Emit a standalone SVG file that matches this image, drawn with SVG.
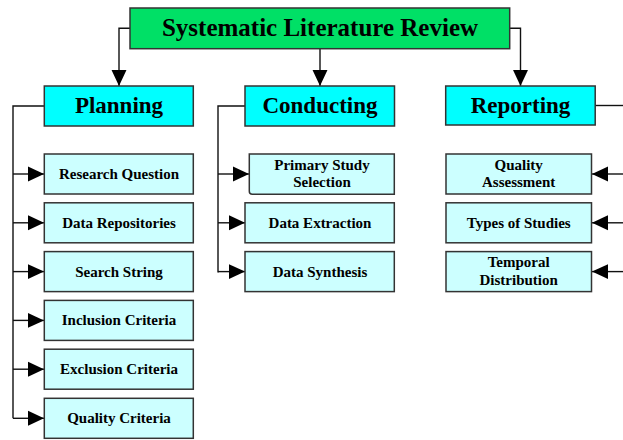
<svg xmlns="http://www.w3.org/2000/svg" width="623" height="440" viewBox="0 0 623 440">
<defs>
<style>
.t{font-family:"Liberation Serif","Times New Roman",serif;font-weight:bold;fill:#000;text-anchor:middle}
.top{fill:#00e066;stroke:#333;stroke-width:1.5}
.mid{fill:#00ffff;stroke:#333;stroke-width:1.5}
.leaf{fill:#ccffff;stroke:#333;stroke-width:1.5}
.c{fill:none;stroke:#111;stroke-width:1.4}
.h1{font-size:25px}
.h2{font-size:23px}
.h3{font-size:15px}
</style>
<marker id="ah" markerUnits="userSpaceOnUse" markerWidth="16" markerHeight="16" viewBox="0 0 15 14" refX="15" refY="7" orient="auto">
<path d="M0,0 L15,7 L0,14 Z" fill="#000"/>
</marker>
</defs>
<rect width="623" height="440" fill="#fff"/>
<g id="connectors">
<path class="c" d="M130,28.3 H119 V86" marker-end="url(#ah)"/>
<path class="c" d="M320,48.7 V86" marker-end="url(#ah)"/>
<path class="c" d="M509.7,28.3 H520.5 V86" marker-end="url(#ah)"/>
<path class="c" d="M44,106 H13 V418.3"/>
<path class="c" d="M13,174 H44" marker-end="url(#ah)"/>
<path class="c" d="M13,222.8 H44" marker-end="url(#ah)"/>
<path class="c" d="M13,271.6 H44" marker-end="url(#ah)"/>
<path class="c" d="M13,320.4 H44" marker-end="url(#ah)"/>
<path class="c" d="M13,369.2 H44" marker-end="url(#ah)"/>
<path class="c" d="M13,418.3 H44" marker-end="url(#ah)"/>
<path class="c" d="M245,106 H218 V272.6"/>
<path class="c" d="M218,174 H249" marker-end="url(#ah)"/>
<path class="c" d="M218,222.8 H245" marker-end="url(#ah)"/>
<path class="c" d="M218,271.6 H245" marker-end="url(#ah)"/>
<path class="c" d="M595,105.5 H623"/>
<path class="c" d="M623,174 H592" marker-end="url(#ah)"/>
<path class="c" d="M623,222.8 H592" marker-end="url(#ah)"/>
<path class="c" d="M623,271.6 H592" marker-end="url(#ah)"/>
</g>
<g id="slr"><rect class="top" x="130" y="8" width="379.7" height="40.7"/><text class="t h1" x="320" y="36">Systematic Literature Review</text></g>
<g id="planning"><rect class="mid" x="44.3" y="86" width="149" height="40"/><text class="t h2" x="119" y="113">Planning</text></g>
<g id="conducting"><rect class="mid" x="245" y="86" width="149.5" height="40"/><text class="t h2" x="320" y="113">Conducting</text></g>
<g id="reporting"><rect class="mid" x="445.7" y="86" width="149.5" height="39"/><text class="t h2" x="520.5" y="113">Reporting</text></g>
<g id="research-question"><rect class="leaf" x="44.3" y="154" width="149" height="40"/><text class="t h3" x="119" y="179">Research Question</text></g>
<g id="data-repositories"><rect class="leaf" x="44.3" y="202.8" width="149" height="40"/><text class="t h3" x="119" y="227.8">Data Repositories</text></g>
<g id="search-string"><rect class="leaf" x="44.3" y="251.6" width="149" height="40"/><text class="t h3" x="119" y="276.6">Search String</text></g>
<g id="inclusion-criteria"><rect class="leaf" x="44.3" y="300.4" width="149" height="40"/><text class="t h3" x="119" y="325.4">Inclusion Criteria</text></g>
<g id="exclusion-criteria"><rect class="leaf" x="44.3" y="349.2" width="149" height="40"/><text class="t h3" x="119" y="374.2">Exclusion Criteria</text></g>
<g id="quality-criteria"><rect class="leaf" x="44.3" y="398.3" width="149" height="40"/><text class="t h3" x="119" y="423.3">Quality Criteria</text></g>
<g id="primary-study-selection"><path class="leaf" d="M249.3,154 H394.3 V194.3 H252.3 Q249.3,194.3 249.3,191.3 Z"/><text class="t h3" x="322" y="169.5">Primary Study</text><text class="t h3" x="322" y="187">Selection</text></g>
<g id="data-extraction"><rect class="leaf" x="245" y="202.8" width="149.3" height="40"/><text class="t h3" x="320" y="227.8">Data Extraction</text></g>
<g id="data-synthesis"><rect class="leaf" x="245" y="251.6" width="149.3" height="40"/><text class="t h3" x="320" y="276.6">Data Synthesis</text></g>
<g id="quality-assessment"><rect class="leaf" x="446" y="154" width="145.5" height="40"/><text class="t h3" x="518.7" y="169.5">Quality</text><text class="t h3" x="518.7" y="187">Assessment</text></g>
<g id="types-of-studies"><rect class="leaf" x="446" y="202.8" width="145.5" height="40"/><text class="t h3" x="518.7" y="227.8">Types of Studies</text></g>
<g id="temporal-distribution"><rect class="leaf" x="446" y="251.6" width="145.5" height="40"/><text class="t h3" x="518.7" y="267.1">Temporal</text><text class="t h3" x="518.7" y="284.6">Distribution</text></g>
</svg>
